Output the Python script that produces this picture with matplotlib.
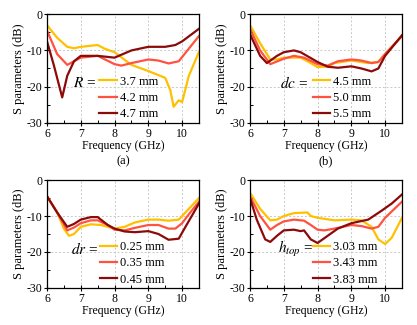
import matplotlib
matplotlib.use("Agg")
import matplotlib.pyplot as plt
from matplotlib.ticker import MultipleLocator

plt.rcParams['font.family'] = ['Liberation Serif', 'DejaVu Serif']
plt.rcParams['mathtext.fontset'] = 'stix'
plt.rcParams['axes.unicode_minus'] = False

colors = ['#FFC000', '#FF5240', '#8B0A0A']

# (a) R
a_labels = ['3.7 mm', '4.2 mm', '4.7 mm']
a_x = [
    [6, 6.3, 6.6, 6.8, 7, 7.5, 7.7, 8, 8.5, 9, 9.5, 9.65, 9.75, 9.9, 10, 10.2, 10.5],
    [6, 6.3, 6.6, 6.8, 7, 7.5, 8, 8.2, 8.5, 9, 9.3, 9.6, 9.9, 10.2, 10.5],
    [6, 6.2, 6.45, 6.6, 6.8, 7, 7.5, 8, 8.5, 9, 9.5, 9.8, 10, 10.5],
]
a_y = [
    [-3, -6.5, -9, -9.4, -9, -8.5, -9.5, -10.5, -14, -15.7, -17.6, -21, -25.6, -23.8, -24.3, -17, -10.4],
    [-4.5, -11, -14, -13, -12, -11.5, -13.8, -14.2, -13.5, -12.5, -12.8, -13.6, -13, -9.5, -6],
    [-7.5, -14, -23, -17, -13, -11.5, -11.5, -12, -10, -9, -9, -8.5, -7.5, -4],
]

# (b) dc
b_labels = ['4.5 mm', '5.0 mm', '5.5 mm']
b_x = [
    [6, 6.3, 6.6, 6.8, 7, 7.5, 7.8, 8, 8.3, 8.5, 9, 9.5, 9.8, 10, 10.5],
    [6, 6.3, 6.6, 7, 7.3, 7.6, 8, 8.3, 8.6, 9, 9.3, 9.6, 9.8, 10, 10.5],
    [6, 6.3, 6.5, 6.8, 7, 7.3, 7.5, 8, 8.3, 8.6, 9, 9.3, 9.6, 9.8, 10, 10.5],
]
b_y = [
    [-3, -8, -12.5, -12.5, -12, -12, -13.5, -14.6, -14.5, -13.5, -12.8, -13.5, -13.2, -11, -6],
    [-4, -10, -13.8, -12.3, -11.5, -12, -13.8, -14.2, -13, -12.5, -12.8, -13.5, -13.2, -11, -6],
    [-5.5, -11.5, -13.5, -11.5, -10.5, -10, -10.5, -13.2, -14.5, -14.8, -14.4, -15, -15.8, -15, -11.5, -5.8],
]

# (c) dr
c_labels = ['0.25 mm', '0.35 mm', '0.45 mm']
c_x = [
    [6, 6.3, 6.5, 6.65, 6.8, 7, 7.3, 7.6, 8, 8.3, 8.6, 9, 9.3, 9.6, 9.9, 10.1, 10.5],
    [6, 6.3, 6.6, 6.8, 7, 7.3, 7.5, 7.8, 8, 8.3, 8.6, 9, 9.3, 9.6, 9.8, 10, 10.2, 10.5],
    [6, 6.3, 6.6, 6.8, 7, 7.3, 7.5, 7.8, 8, 8.3, 8.6, 9, 9.3, 9.6, 9.9, 10.1, 10.5],
]
c_y = [
    [-4.5, -9, -13.5, -15.5, -15, -13, -12.3, -12.5, -13.5, -13, -11.8, -11, -11, -11.3, -11, -9, -5],
    [-4.5, -9, -14, -13.2, -12, -11.2, -11.2, -12.5, -13.8, -14, -13.3, -12.5, -12.5, -13.5, -13.5, -12, -9.5, -6],
    [-4.5, -9, -13, -12.2, -11, -10.3, -10.3, -12.5, -13.5, -14.3, -14.5, -14.2, -15, -16.6, -16.3, -13, -6.5],
]

# (d) h_top
d_labels = ['3.03 mm', '3.43 mm', '3.83 mm']
d_x = [
    [6, 6.3, 6.6, 6.8, 7, 7.3, 7.7, 7.8, 8, 8.5, 9, 9.3, 9.6, 9.8, 10, 10.2, 10.5],
    [6, 6.3, 6.6, 6.8, 7, 7.3, 7.6, 7.8, 8, 8.2, 8.5, 9, 9.3, 9.6, 9.8, 10, 10.5],
    [6, 6.2, 6.45, 6.6, 6.8, 7, 7.3, 7.5, 7.6, 7.8, 8, 8.3, 8.6, 9, 9.5, 9.9, 10.2, 10.5],
]
d_y = [
    [-3.5, -8, -11.2, -11, -10, -9.2, -9, -10, -10.5, -11.2, -11, -11.2, -13, -16.5, -17.8, -16, -10.5],
    [-4.5, -10, -13.8, -12.5, -11.5, -11, -11.3, -12.5, -13.8, -14, -13.5, -12.5, -12.8, -13.5, -13, -10.5, -6],
    [-5, -11, -16.5, -17.2, -15.5, -14, -13.8, -14.2, -14, -16.5, -17.5, -15.5, -13.5, -12, -11, -8.5, -6.5, -4],
]

fig = plt.figure(figsize=(4.17, 3.25), dpi=100)

panels = [
    ([0.1127, 0.6225, 0.3645, 0.3335], a_x, a_y, a_labels, r'$\mathit{R}$ =', 0.17, 0.285),
    ([0.5995, 0.6225, 0.3645, 0.3335], b_x, b_y, b_labels, r'$\mathbf{\mathit{dc}}$ =', 0.20, 0.355),
    ([0.1127, 0.114, 0.3645, 0.332], c_x, c_y, c_labels, r'$\mathbf{\mathit{dr}}$ =', 0.155, 0.29),
    ([0.5995, 0.114, 0.3645, 0.332], d_x, d_y, d_labels, r'$\mathbf{\mathit{h_{top}}}$ =', 0.185, 0.355),
]

for pos, xs, ys, labels, name, name_x, leg_x in panels:
    ax = fig.add_axes(pos)
    for x, y, c, lab in zip(xs, ys, colors, labels):
        ax.plot(x, y, color=c, lw=1.6, label=lab)
    ax.set_xlim(6, 10.5)
    ax.set_ylim(-30, 0)
    ax.set_xticks([6, 7, 8, 9, 10])
    ax.set_yticks([0, -10, -20, -30])
    ax.xaxis.set_minor_locator(MultipleLocator(0.5))
    ax.yaxis.set_minor_locator(MultipleLocator(5))
    ax.grid(True, which='major', ls=(0, (2, 2)), color='#c8c8c8', lw=0.7)
    ax.tick_params(which='major', direction='inout', length=4, width=0.8,
                   labelsize=8.5, pad=1.5)
    ax.tick_params(which='minor', direction='in', length=2, width=0.7)
    for s in ax.spines.values():
        s.set_linewidth(0.9)
    ax.set_xlabel('Frequency (GHz)', fontsize=8.5, labelpad=0)
    ax.set_ylabel('S parameters (dB)', fontsize=9, labelpad=1)
    ax.legend(loc='lower left', bbox_to_anchor=(leg_x, -0.06), frameon=False,
              fontsize=9, handlelength=1.4, handletextpad=0.25,
              labelspacing=0.35, borderpad=0.2)
    ax.text(name_x, 0.365, name, transform=ax.transAxes, fontsize=11,
            ha='left', va='center')

fig.text(0.295, 0.505, '(a)', fontsize=9, ha='center', va='center')
fig.text(0.78, 0.505, '(b)', fontsize=9, ha='center', va='center')

fig.savefig('out.png', dpi=100)
